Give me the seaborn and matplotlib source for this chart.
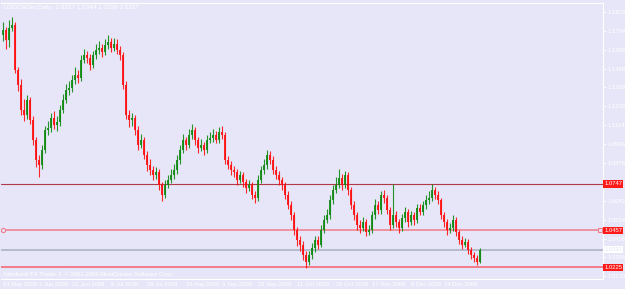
import numpy as np
import pandas as pd
import matplotlib
matplotlib.use("Agg")
import matplotlib.pyplot as plt
import matplotlib.transforms as mtransforms
import seaborn as sns

title_text = "USDCADm,Daily  1.0337 1.0344 1.0326 1.0337"
copyright_text = "Interbank FX Trader 4, \u00a9 2001-2009 MetaQuotes Software Corp."

opens = [1.1680, 1.1710, 1.1647, 1.1722, 1.1741, 1.1460, 1.1366, 1.1210, 1.1178, 1.1272,
         1.1147, 1.1022, 1.0897, 1.0866, 1.0960, 1.1085, 1.1097, 1.1160, 1.1116, 1.1135,
         1.1210, 1.1272, 1.1335, 1.1347, 1.1397, 1.1428, 1.1410, 1.1522, 1.1553, 1.1535,
         1.1491, 1.1553, 1.1585, 1.1597, 1.1572, 1.1616, 1.1635, 1.1597, 1.1622, 1.1585,
         1.1553, 1.1366, 1.1178, 1.1147, 1.1160, 1.1085, 1.0991, 1.1022, 1.0928, 1.0866,
         1.0835, 1.0803, 1.0822, 1.0741, 1.0678, 1.0741, 1.0772, 1.0803, 1.0835, 1.0897,
         1.0960, 1.1022, 1.0991, 1.1053, 1.1085, 1.1022, 1.0972, 1.0991, 1.0960, 1.1022,
         1.1035, 1.1053, 1.1022, 1.1072, 1.1053, 1.0897, 1.0866, 1.0835, 1.0822, 1.0772,
         1.0803, 1.0760, 1.0722, 1.0741, 1.0678, 1.0660, 1.0772, 1.0835, 1.0866, 1.0928,
         1.0897, 1.0835, 1.0803, 1.0772, 1.0741, 1.0678, 1.0616, 1.0553, 1.0460, 1.0397,
         1.0366, 1.0303, 1.0260, 1.0303, 1.0347, 1.0397, 1.0366, 1.0460, 1.0522, 1.0553,
         1.0647, 1.0710, 1.0741, 1.0785, 1.0741, 1.0803, 1.0710, 1.0616, 1.0553, 1.0491,
         1.0472, 1.0510, 1.0447, 1.0460, 1.0553, 1.0616, 1.0585, 1.0678, 1.0660, 1.0585,
         1.0491, 1.0553, 1.0510, 1.0472, 1.0535, 1.0572, 1.0510, 1.0553, 1.0522, 1.0597,
         1.0572, 1.0616, 1.0647, 1.0660, 1.0710, 1.0678, 1.0647, 1.0553, 1.0510, 1.0460,
         1.0472, 1.0522, 1.0447, 1.0397, 1.0366, 1.0385, 1.0335, 1.0303, 1.0285, 1.0260]
closes = [1.1710, 1.1647, 1.1722, 1.1741, 1.1460, 1.1366, 1.1210, 1.1178, 1.1272, 1.1147,
          1.1022, 1.0897, 1.0866, 1.0960, 1.1085, 1.1097, 1.1160, 1.1116, 1.1135, 1.1210,
          1.1272, 1.1335, 1.1347, 1.1397, 1.1428, 1.1410, 1.1522, 1.1553, 1.1535, 1.1491,
          1.1553, 1.1585, 1.1597, 1.1572, 1.1616, 1.1635, 1.1597, 1.1622, 1.1585, 1.1553,
          1.1366, 1.1178, 1.1147, 1.1160, 1.1085, 1.0991, 1.1022, 1.0928, 1.0866, 1.0835,
          1.0803, 1.0822, 1.0741, 1.0678, 1.0741, 1.0772, 1.0803, 1.0835, 1.0897, 1.0960,
          1.1022, 1.0991, 1.1053, 1.1085, 1.1022, 1.0972, 1.0991, 1.0960, 1.1022, 1.1035,
          1.1053, 1.1022, 1.1072, 1.1053, 1.0897, 1.0866, 1.0835, 1.0822, 1.0772, 1.0803,
          1.0760, 1.0722, 1.0741, 1.0678, 1.0660, 1.0772, 1.0835, 1.0866, 1.0928, 1.0897,
          1.0835, 1.0803, 1.0772, 1.0741, 1.0678, 1.0616, 1.0553, 1.0460, 1.0397, 1.0366,
          1.0303, 1.0260, 1.0303, 1.0347, 1.0397, 1.0366, 1.0460, 1.0522, 1.0553, 1.0647,
          1.0710, 1.0741, 1.0785, 1.0741, 1.0803, 1.0710, 1.0616, 1.0553, 1.0491, 1.0472,
          1.0510, 1.0447, 1.0460, 1.0553, 1.0616, 1.0585, 1.0678, 1.0660, 1.0585, 1.0491,
          1.0553, 1.0510, 1.0472, 1.0535, 1.0572, 1.0510, 1.0553, 1.0522, 1.0597, 1.0572,
          1.0616, 1.0647, 1.0660, 1.0710, 1.0678, 1.0647, 1.0553, 1.0510, 1.0460, 1.0472,
          1.0522, 1.0447, 1.0397, 1.0366, 1.0385, 1.0335, 1.0303, 1.0285, 1.0260, 1.0337]
highs = [1.1760, 1.1730, 1.1770, 1.1790, 1.1760, 1.1480, 1.1400, 1.1280, 1.1300, 1.1290,
         1.1170, 1.1040, 1.0930, 1.0990, 1.1110, 1.1140, 1.1190, 1.1200, 1.1170, 1.1240,
         1.1310, 1.1370, 1.1390, 1.1430, 1.1480, 1.1460, 1.1550, 1.1590, 1.1580, 1.1560,
         1.1580, 1.1620, 1.1640, 1.1620, 1.1650, 1.1680, 1.1660, 1.1660, 1.1650, 1.1610,
         1.1570, 1.1390, 1.1210, 1.1190, 1.1180, 1.1110, 1.1060, 1.1040, 1.0950, 1.0900,
         1.0860, 1.0850, 1.0840, 1.0760, 1.0770, 1.0800, 1.0840, 1.0870, 1.0930, 1.0990,
         1.1060, 1.1040, 1.1090, 1.1120, 1.1100, 1.1040, 1.1030, 1.1010, 1.1050, 1.1070,
         1.1090, 1.1080, 1.1100, 1.1110, 1.1070, 1.0920, 1.0890, 1.0860, 1.0840, 1.0830,
         1.0820, 1.0780, 1.0770, 1.0760, 1.0700, 1.0800, 1.0860, 1.0900, 1.0960, 1.0950,
         1.0920, 1.0860, 1.0830, 1.0790, 1.0760, 1.0700, 1.0640, 1.0570, 1.0480, 1.0420,
         1.0390, 1.0330, 1.0330, 1.0380, 1.0420, 1.0420, 1.0490, 1.0550, 1.0590, 1.0680,
         1.0740, 1.0790, 1.0840, 1.0810, 1.0830, 1.0820, 1.0730, 1.0640, 1.0570, 1.0520,
         1.0540, 1.0530, 1.0490, 1.0580, 1.0650, 1.0640, 1.0700, 1.0710, 1.0680, 1.0600,
         1.0747, 1.0580, 1.0530, 1.0560, 1.0600, 1.0590, 1.0580, 1.0570, 1.0620, 1.0620,
         1.0640, 1.0680, 1.0700, 1.0747, 1.0730, 1.0700, 1.0660, 1.0570, 1.0530, 1.0500,
         1.0550, 1.0540, 1.0460, 1.0420, 1.0410, 1.0400, 1.0350, 1.0320, 1.0300, 1.0344]
lows = [1.1640, 1.1590, 1.1600, 1.1700, 1.1440, 1.1330, 1.1180, 1.1140, 1.1150, 1.1120,
        1.0990, 1.0850, 1.0790, 1.0840, 1.0940, 1.1050, 1.1070, 1.1090, 1.1080, 1.1110,
        1.1190, 1.1250, 1.1300, 1.1320, 1.1370, 1.1380, 1.1390, 1.1500, 1.1500, 1.1460,
        1.1470, 1.1530, 1.1560, 1.1540, 1.1550, 1.1590, 1.1570, 1.1580, 1.1560, 1.1520,
        1.1340, 1.1150, 1.1100, 1.1110, 1.1050, 1.0960, 1.0970, 1.0900, 1.0830, 1.0800,
        1.0770, 1.0780, 1.0710, 1.0640, 1.0660, 1.0720, 1.0750, 1.0780, 1.0810, 1.0870,
        1.0940, 1.0960, 1.0970, 1.1030, 1.0990, 1.0940, 1.0950, 1.0930, 1.0940, 1.1000,
        1.1010, 1.1000, 1.1000, 1.1030, 1.0870, 1.0840, 1.0800, 1.0790, 1.0740, 1.0750,
        1.0730, 1.0690, 1.0700, 1.0650, 1.0630, 1.0640, 1.0750, 1.0810, 1.0840, 1.0870,
        1.0810, 1.0780, 1.0740, 1.0710, 1.0650, 1.0590, 1.0520, 1.0430, 1.0360, 1.0330,
        1.0270, 1.0220, 1.0240, 1.0280, 1.0320, 1.0340, 1.0350, 1.0440, 1.0500, 1.0530,
        1.0620, 1.0690, 1.0720, 1.0710, 1.0720, 1.0680, 1.0590, 1.0520, 1.0460, 1.0440,
        1.0450, 1.0420, 1.0430, 1.0440, 1.0530, 1.0560, 1.0560, 1.0630, 1.0560, 1.0460,
        1.0470, 1.0480, 1.0440, 1.0450, 1.0510, 1.0480, 1.0490, 1.0490, 1.0500, 1.0550,
        1.0550, 1.0590, 1.0620, 1.0640, 1.0650, 1.0620, 1.0530, 1.0480, 1.0430, 1.0440,
        1.0450, 1.0420, 1.0370, 1.0340, 1.0350, 1.0310, 1.0280, 1.0260, 1.0240, 1.0250]

date_labels = ["14 May 2009", "2 Jun 2009", "21 Jun 2009", "9 Jul 2009", "28 Jul 2009",
               "16 Aug 2009", "3 Sep 2009", "22 Sep 2009", "11 Oct 2009", "29 Oct 2009",
               "17 Nov 2009", "6 Dec 2009", "24 Dec 2009"]
date_bar_index = [0, 12, 23, 36, 48, 61, 73, 85, 98, 111, 123, 136, 147]

ytick_values = [1.1822, 1.1704, 1.1586, 1.1468, 1.1350, 1.1232, 1.1114, 1.0996,
                1.0878, 1.0642, 1.0524, 1.0406, 1.0288, 1.0170]
level_lines = [1.0747, 1.0457, 1.0225]
bid_price = 1.0337
price_range = (1.0153, 1.1878)

BG = "#E6E6F8"
UP = "#118a11"
DOWN = "#FF1010"
TXT = "#FFFFFF"
FS = 4.2

df = pd.DataFrame({"bar": np.arange(len(closes)), "open": opens, "high": highs,
                   "low": lows, "close": closes})
df["up"] = df["close"] >= df["open"]

sns.set_theme(style="white", rc={"axes.facecolor": BG, "figure.facecolor": BG})
plt.rcParams["font.family"] = ["Liberation Sans", "DejaVu Sans"]

fig = plt.figure(figsize=(6.25, 2.89), dpi=100)
ax = fig.add_axes([1 / 625, 10 / 289, 602 / 625, 276 / 289])
ax.set_facecolor(BG)

colors = np.where(df["up"], UP, DOWN)
ax.vlines(df["bar"], df["low"], df["high"], colors=colors, linewidth=0.8, alpha=0.9, zorder=3)
body = (df["close"] - df["open"]).abs().clip(lower=0.0004)
bottom = df[["open", "close"]].min(axis=1)
ax.bar(df["bar"], body, bottom=bottom, width=0.62, color=colors, linewidth=0, alpha=0.9, zorder=4)

# horizontal levels
ax.axhline(level_lines[0], color="#B23A48", lw=0.8, zorder=2)
ax.axhline(level_lines[1], color="#F27C8A", lw=1.1, zorder=2)
ax.axhline(level_lines[2], color="#F27C8A", lw=1.4, zorder=2)
ax.axhline(bid_price, color="#A8AEC0", lw=1.1, zorder=2)
trans = mtransforms.blended_transform_factory(ax.transAxes, ax.transData)
ax.plot([0.004], [level_lines[1]], marker="o", ms=3, mfc=BG, mec="#F27C8A", mew=0.8,
        transform=trans, zorder=5, clip_on=False)
ax.plot([0.995], [level_lines[1]], marker="s", ms=2.5, mfc=BG, mec="#F27C8A", mew=0.8,
        transform=trans, zorder=5, clip_on=False)

ax.set_xlim(-0.67, 200)
ax.set_ylim(*price_range)

ax.spines["left"].set_visible(False)
for s in ["top", "right", "bottom"]:
    ax.spines[s].set_color("#FFFFFF")
    ax.spines[s].set_linewidth(0.8)

ax.yaxis.tick_right()
ax.set_yticks(ytick_values)
ax.set_yticklabels([f"{v:.4f}" for v in ytick_values])
ax.tick_params(axis="y", colors=TXT, labelsize=FS, length=2, width=0.6, pad=1.5, labelcolor=TXT)
ax.set_xticks(date_bar_index)
ax.set_xticklabels(date_labels)
ax.tick_params(axis="x", colors=TXT, labelsize=FS, length=2, width=0.6, pad=0.3,
               direction="out", labelcolor=TXT)
for lbl in ax.get_xticklabels():
    lbl.set_horizontalalignment("left")

for v in level_lines:
    ax.text(1.002, v, f"{v:.4f}", transform=trans, ha="left", va="center", fontsize=FS,
            color="#FFFFFF", zorder=10, clip_on=False,
            bbox=dict(boxstyle="square,pad=0.2", fc="#FF1A1A", ec="none"))
ax.text(1.002, bid_price, f"{bid_price:.4f}", transform=trans, ha="left", va="center",
        fontsize=FS, color="#E0E0F0", zorder=10, clip_on=False,
        bbox=dict(boxstyle="square,pad=0.2", fc="#FFFFFF", ec="none"))

fig.text(4 / 625, 1 - 7 / 289, title_text, fontsize=4.6, color=TXT, ha="left", va="center")
fig.text(4 / 625, 1 - 274 / 289, copyright_text, fontsize=FS, color=TXT, ha="left", va="center")

fig.savefig("out.png", dpi=100, facecolor=BG)
